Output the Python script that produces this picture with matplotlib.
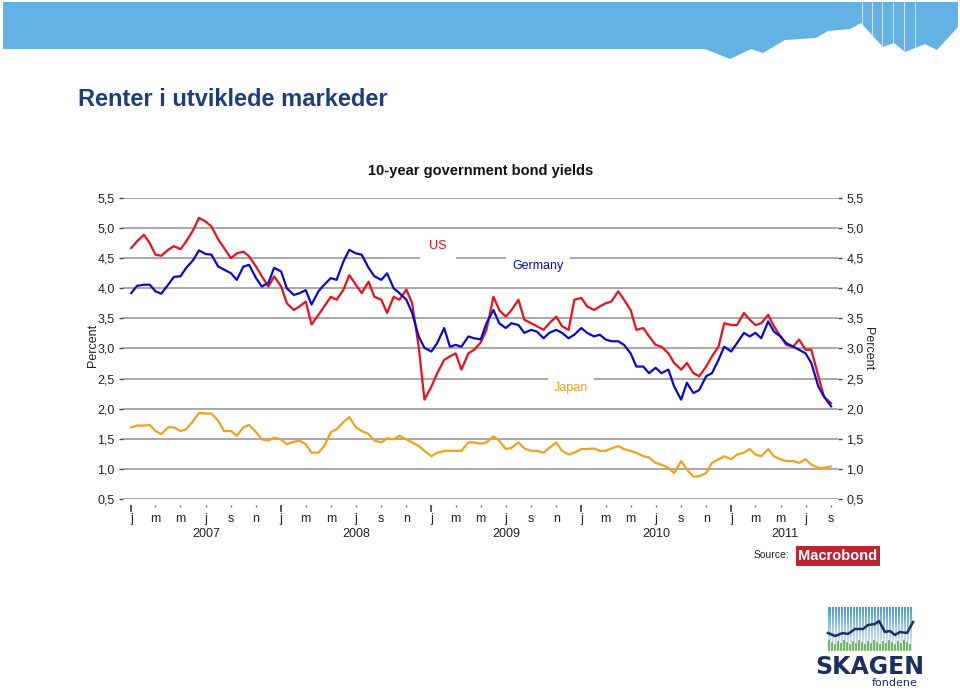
import numpy as np
import pandas as pd
import matplotlib
matplotlib.use("Agg")
import matplotlib.pyplot as plt
from matplotlib.patches import Polygon, Rectangle
from matplotlib.transforms import blended_transform_factory

plt.rcParams["font.family"] = ["Liberation Sans", "DejaVu Sans"]

# semi-monthly readings, Jan 2007 - Sep 2011
dates = pd.date_range("2007-01-01", periods=113, freq="SMS")

us = [4.67, 4.78, 4.89, 4.75, 4.56, 4.54, 4.64, 4.70, 4.65, 4.78,
      4.97, 5.17, 5.11, 5.03, 4.81, 4.67, 4.50, 4.58, 4.61, 4.53,
      4.36, 4.20, 4.03, 4.20, 4.03, 3.75, 3.64, 3.70, 3.78, 3.40,
      3.56, 3.70, 3.86, 3.81, 3.98, 4.22, 4.06, 3.92, 4.11, 3.86,
      3.81, 3.59, 3.86, 3.81, 3.98, 3.75, 3.03, 2.15, 2.37, 2.59,
      2.81, 2.87, 2.92, 2.65, 2.92, 2.98, 3.10, 3.31, 3.86, 3.64,
      3.53, 3.64, 3.81, 3.48, 3.42, 3.37, 3.31, 3.42, 3.53, 3.37,
      3.31, 3.81, 3.84, 3.70, 3.64, 3.70, 3.75, 3.78, 3.95, 3.81,
      3.64, 3.31, 3.34, 3.20, 3.06, 3.03, 2.92, 2.76, 2.65, 2.76,
      2.59, 2.54, 2.70, 2.87, 3.03, 3.42, 3.39, 3.39, 3.59, 3.48,
      3.39, 3.42, 3.56, 3.37, 3.20, 3.06, 3.03, 3.15, 2.98, 2.98,
      2.54, 2.20, 2.09]

germany = [3.92, 4.04, 4.06, 4.06, 3.95, 3.91, 4.06, 4.19, 4.20, 4.34,
           4.47, 4.63, 4.57, 4.56, 4.36, 4.31, 4.25, 4.14, 4.36, 4.39,
           4.17, 4.03, 4.09, 4.34, 4.28, 4.00, 3.89, 3.92, 3.97, 3.73,
           3.95, 4.06, 4.17, 4.14, 4.45, 4.64, 4.58, 4.56, 4.34, 4.20,
           4.14, 4.25, 4.00, 3.92, 3.81, 3.59, 3.20, 3.01, 2.95, 3.09,
           3.34, 3.03, 3.06, 3.03, 3.20, 3.17, 3.15, 3.42, 3.64, 3.42,
           3.34, 3.42, 3.39, 3.26, 3.31, 3.28, 3.17, 3.26, 3.31, 3.26,
           3.17, 3.23, 3.34, 3.26, 3.20, 3.23, 3.15, 3.12, 3.12, 3.06,
           2.92, 2.70, 2.70, 2.59, 2.68, 2.59, 2.65, 2.37, 2.15, 2.43,
           2.26, 2.31, 2.54, 2.59, 2.81, 3.03, 2.95, 3.09, 3.26, 3.20,
           3.26, 3.17, 3.45, 3.28, 3.20, 3.09, 3.03, 2.98, 2.92, 2.76,
           2.37, 2.20, 2.04]

japan = [1.69, 1.72, 1.72, 1.73, 1.63, 1.58, 1.69, 1.69, 1.63, 1.66,
         1.80, 1.93, 1.92, 1.92, 1.80, 1.63, 1.63, 1.55, 1.69, 1.73,
         1.61, 1.49, 1.47, 1.52, 1.49, 1.41, 1.45, 1.47, 1.41, 1.27,
         1.27, 1.38, 1.61, 1.66, 1.78, 1.86, 1.69, 1.63, 1.58, 1.47,
         1.44, 1.51, 1.49, 1.55, 1.49, 1.44, 1.38, 1.30, 1.21, 1.27,
         1.30, 1.30, 1.30, 1.30, 1.44, 1.44, 1.42, 1.44, 1.54, 1.47,
         1.33, 1.35, 1.44, 1.34, 1.30, 1.30, 1.27, 1.35, 1.44, 1.30,
         1.24, 1.27, 1.33, 1.33, 1.34, 1.30, 1.30, 1.34, 1.38, 1.33,
         1.30, 1.27, 1.21, 1.19, 1.10, 1.07, 1.02, 0.93, 1.13, 0.99,
         0.87, 0.88, 0.93, 1.10, 1.16, 1.21, 1.16, 1.24, 1.27, 1.33,
         1.24, 1.21, 1.33, 1.21, 1.16, 1.13, 1.13, 1.10, 1.16, 1.07,
         1.02, 1.02, 1.04]

y_ticks = [0.5, 1.0, 1.5, 2.0, 2.5, 3.0, 3.5, 4.0, 4.5, 5.0, 5.5]
month_letters = ["j", "m", "m", "j", "s", "n"]
years = [2007, 2008, 2009, 2010, 2011]

# small logo chart in the corner
logo_x = [828, 835, 843, 848, 855, 863, 868, 875, 879, 885, 890, 895, 900, 907, 913]
logo_y = [633, 636, 633, 634, 629, 629, 625, 624, 621, 632, 631, 635, 632, 633, 622]

RED = "#e8121b"
BLUE = "#0a0acc"
ORANGE = "#f0a21e"
NAVY = "#1b3f7c"

W, H = 960, 690
fig = plt.figure(figsize=(9.6, 6.9), dpi=100)


def fx(x):
    return x / W


def fy(y):
    return 1 - y / H


# background layer in pixel coordinates
bg = fig.add_axes([0, 0, 1, 1], zorder=-1)
bg.set_xlim(0, W)
bg.set_ylim(H, 0)
bg.axis("off")

banner = [(3, 2), (3, 49), (705, 49), (730, 59), (751, 49), (763, 53), (785, 40),
          (816, 38), (828, 31), (850, 29), (861, 23), (883, 47), (894, 43),
          (905, 52), (925, 44), (937, 50), (958, 27), (958, 2)]
bg.add_patch(Polygon(banner, closed=True, color="#64b1e4", lw=0))
for xs, ye in [(862, 27), (872, 35), (882, 45), (893, 43), (904, 50), (915, 47)]:
    bg.plot([xs, xs], [2, ye], color="white", lw=0.6, alpha=0.8)

# Macrobond source tag
bg.text(771, 555, "Source:", fontsize=7.5, ha="center", va="center", color="#222222")
bg.add_patch(Rectangle((796, 546), 84, 20, color="#bf2230", lw=0))
bg.text(838, 556.5, "Macrobond", fontsize=10.5, ha="center", va="center", color="white",
        fontweight="bold")

# SKAGEN logo
grad = np.linspace(0, 1, 50).reshape(-1, 1)
bg.imshow(grad, extent=[828, 913, 650, 607], cmap="Blues_r", vmin=-0.9, vmax=1.3,
          aspect="auto", zorder=1)
for xs in np.arange(829, 913, 3):
    bg.plot([xs + 1.5, xs + 1.5], [607, 650], color="white", lw=0.7, zorder=2)
for i, xs in enumerate(np.arange(829, 912, 3)):
    top = 641 + (i * 7 % 5)
    bg.plot([xs, xs], [650, top], color="#6ab04c", lw=1.3, zorder=3)
bg.plot(logo_x, logo_y, color="#1b2f63", lw=1.8, zorder=4)
bg.text(870, 667, "SKAGEN", fontsize=17, fontweight="bold", ha="center", va="center",
        color="#1b2f63", family="DejaVu Sans")
bg.text(895, 683, "fondene", fontsize=8, ha="center", va="center", color="#1b2f63",
        family="DejaVu Sans")

# titles
fig.text(fx(78), fy(99), "Renter i utviklede markeder", fontsize=17, fontweight="bold",
         color=NAVY, va="center", ha="left")
fig.text(fx(481), fy(171), "10-year government bond yields", fontsize=10.5,
         fontweight="bold", ha="center", va="center", color="#111111")

# main chart
ax = fig.add_axes([fx(123), fy(499), fx(838) - fx(123), (499 - 198) / H])
ax.patch.set_alpha(0)
ax.set_xlim(pd.Timestamp("2006-12-12"), pd.Timestamp("2011-09-18"))
ax.set_ylim(0.5, 5.5)
ax.set_axisbelow(True)

ax.plot(dates, japan, color=ORANGE, lw=1.6, zorder=2)
ax.plot(dates, us, color=RED, lw=1.6, zorder=2)
ax.plot(dates, germany, color=BLUE, lw=1.6, zorder=2)

for s in ["top", "left", "right"]:
    ax.spines[s].set_visible(False)
ax.spines["bottom"].set_position(("outward", 4.5))
ax.spines["bottom"].set_visible(False)

ax.set_yticks(y_ticks)
ax.set_yticklabels([f"{v:.1f}".replace(".", ",") for v in y_ticks])
ax.yaxis.grid(True, color="#9a9a9a", lw=1.2)
ax.tick_params(axis="y", which="both", left=True, right=True, labelleft=True,
               labelright=True, length=3, width=1, color="#444444", labelsize=9,
               pad=3, labelcolor="#222222")

tick_dates = pd.date_range("2007-01-01", "2011-09-01", freq="2MS")
ax.set_xticks(tick_dates)
ax.set_xticklabels([month_letters[i % 6] for i in range(len(tick_dates))])
ax.set_xticks(pd.date_range("2007-01-01", "2011-01-01", freq="YS"), minor=True)
ax.xaxis.remove_overlapping_locs = False
ax.tick_params(axis="x", which="major", length=1.5, width=1, color="#666666",
               labelsize=9, pad=4, labelcolor="#222222")
ax.tick_params(axis="x", which="minor", length=5, width=1.2, color="#444444")

x0, x1 = ax.get_xlim()
trans = blended_transform_factory(ax.transData, fig.transFigure)
for yr in years:
    a = max(matplotlib.dates.date2num(pd.Timestamp(f"{yr}-01-01")), x0)
    b = min(matplotlib.dates.date2num(pd.Timestamp(f"{yr + 1}-01-01")), x1)
    if yr == 2007:
        a = matplotlib.dates.date2num(pd.Timestamp("2007-01-01"))
    ax.text((a + b) / 2, fy(534), str(yr), transform=trans, ha="center", va="center",
            fontsize=9, color="#222222")

# series labels
fig.text(fx(438), fy(246), "US", color=RED, fontsize=9, ha="center", va="center",
         bbox=dict(boxstyle="square,pad=0.75", fc="white", ec="none"))
fig.text(fx(538), fy(266), "Germany", color=BLUE, fontsize=9, ha="center", va="center",
         bbox=dict(boxstyle="square,pad=0.5", fc="white", ec="none"))
fig.text(fx(571), fy(388), "Japan", color=ORANGE, fontsize=9, ha="center", va="center",
         bbox=dict(boxstyle="square,pad=0.5", fc="white", ec="none"))

fig.text(fx(93), fy(345), "Percent", rotation=90, fontsize=9, ha="center", va="center",
         color="#222222")
fig.text(fx(868), fy(349), "Percent", rotation=270, fontsize=9, ha="center", va="center",
         color="#222222")

fig.savefig("out.png", dpi=100)
